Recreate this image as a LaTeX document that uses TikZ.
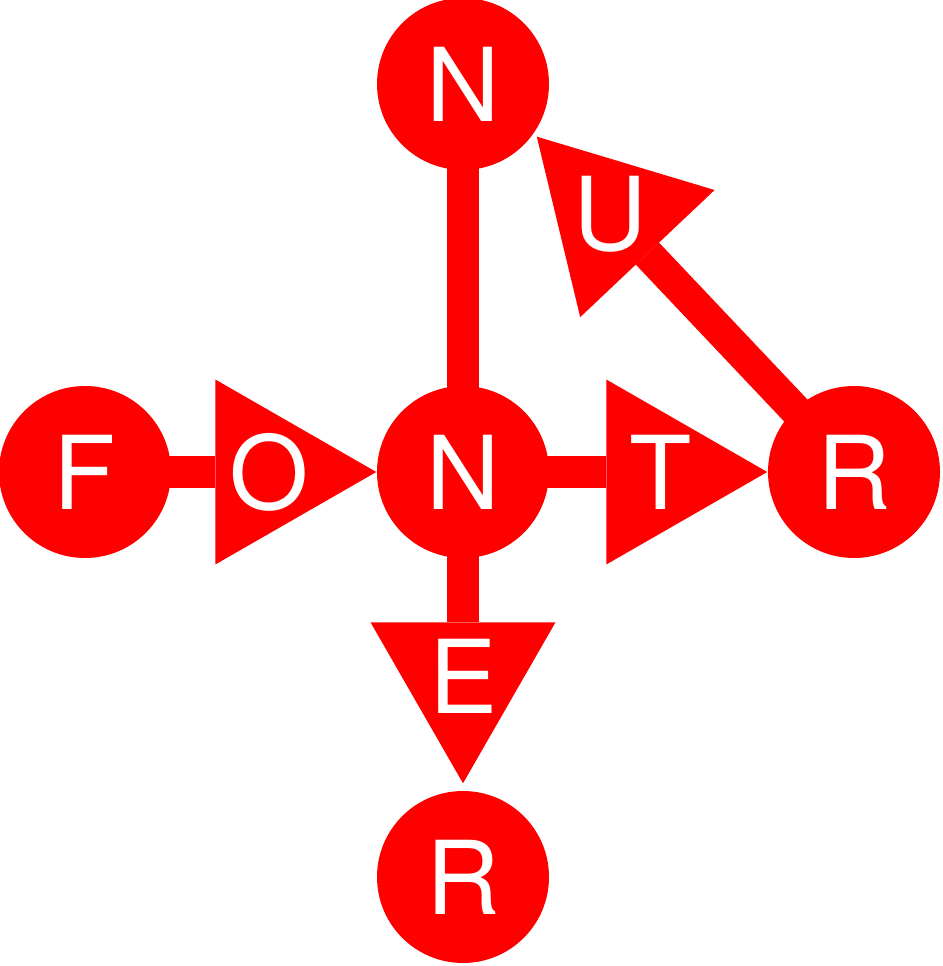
\documentclass[tikz,border=0pt]{standalone}
\usepackage{fontspec}
\setmainfont{TeX Gyre Heros}
\usetikzlibrary{arrows.meta,calc,backgrounds}

\tikzset{
  letter/.style={circle,fill=red,minimum size=1.72cm,inner sep=0pt,text=white,font=\fontsize{29}{29}\selectfont},
  tag/.style={inner sep=0pt,text=white,font=\fontsize{29}{29}\selectfont},
  link/.style={color=red,line width=0.32cm},
  arr/.style={link,-{Triangle[length=1.61cm,width=1.85cm,line width=0pt]}}
}

\begin{document}
\begin{tikzpicture}
\useasboundingbox (0,0) rectangle (9.43,9.66);
% circles
\node[letter] (fo) at (0.85,4.94) {F};
\node[letter] (nc) at (4.63,4.94) {N};
\node[letter] (rr) at (8.54,4.94) {R};
\node[letter] (nt) at (4.63,8.82) {N};
\node[letter] (rb) at (4.63,0.89) {R};
% connectors
\begin{scope}[on background layer]
\draw[arr](fo.center)--(nc);
\draw[arr](nc.center)--(rr);
\draw[arr,shorten >=0.07cm](nc.center)--(rb);
\draw[link](nc.center)--(nt.center);
\draw[arr,shorten >=0.04cm](rr.center)--(nt.-35);
\end{scope}
% letters on the heads
\node[tag] (o) at ($(nc.west)!1.07cm!(fo)$) {O};
\node[tag] (t) at ($(rr.west)!1.07cm!(nc)$) {T};
\node[tag] (e) at ($(rb.north)!1.14cm!(nc)$) {E};
\node[tag] (u) at ($(nt.-35)!1.11cm!(rr)$) {U};
\end{tikzpicture}
\end{document}
